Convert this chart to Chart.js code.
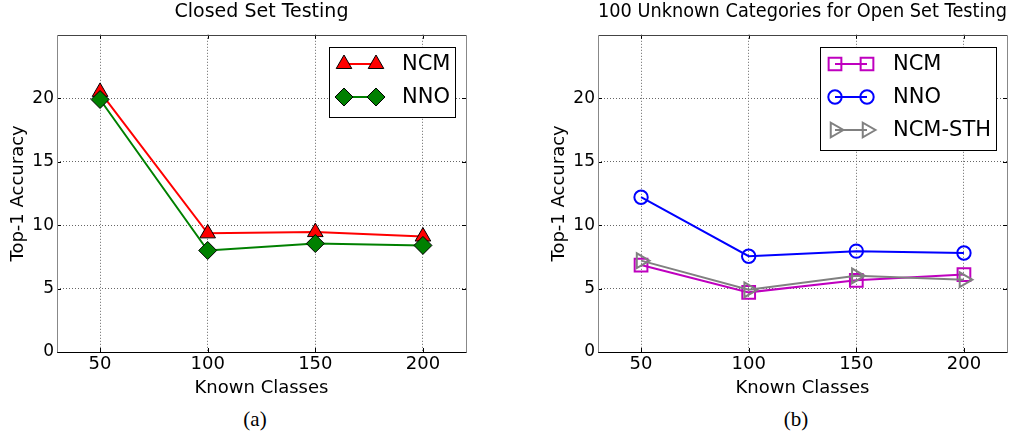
<!DOCTYPE html>
<html>
<head>
<meta charset="utf-8">
<script src="https://cdn.jsdelivr.net/npm/chart.js@4.4.1/dist/chart.umd.min.js"></script>
<style>
  html, body { margin: 0; padding: 0; background: #fff; overflow: hidden; }
  body { width: 1015px; height: 438px; position: relative; }
  canvas { position: absolute; top: 0; }
  #chartA { left: 0; }
  #chartB { left: 540px; }
  .caption { position: absolute; top: 409px; font-family: "Liberation Serif", serif; font-size: 21px; line-height: 21px; color: #000; transform: translateX(-50%); }
</style>
</head>
<body>
<canvas id="chartA" width="523" height="400"></canvas>
<canvas id="chartB" width="525" height="400"></canvas>
<div class="caption" style="left:255px">(a)</div>
<div class="caption" style="left:796px">(b)</div>
<script>
// data
const knownClasses = [50, 100, 150, 200];
const accTicks = [0, 5, 10, 15, 20];

const closedNCM = [20.5, 9.35, 9.45, 9.1];
const closedNNO = [19.9, 8.0, 8.55, 8.4];

const openNCM = [6.85, 4.7, 5.65, 6.1];
const openNNO = [12.2, 7.55, 7.95, 7.8];
const openNCMSTH = [7.2, 4.9, 6.0, 5.7];

Chart.defaults.font.family = 'DejaVu Sans';
Chart.defaults.color = '#000';

function points(vals) {
    return knownClasses.map((x, i) => ({ x: x, y: vals[i] }));
}

// matplotlib-like frame with inward ticks
const framePlugin = {
    id: 'frame',
    afterDraw(chart) {
        const { ctx, chartArea: a, scales: { x, y } } = chart;
        ctx.save();
        ctx.lineWidth = 1;
        ctx.strokeStyle = '#000';
        ctx.beginPath();
        knownClasses.forEach(v => {
            const px = Math.round(x.getPixelForValue(v)) + 0.5;
            ctx.moveTo(px, a.bottom); ctx.lineTo(px, a.bottom - 4);
            ctx.moveTo(px, a.top); ctx.lineTo(px, a.top + 4);
        });
        accTicks.forEach(v => {
            const py = Math.round(y.getPixelForValue(v)) + 0.5;
            ctx.moveTo(a.left, py); ctx.lineTo(a.left + 4, py);
            ctx.moveTo(a.right, py); ctx.lineTo(a.right - 4, py);
        });
        ctx.stroke();
        const l = Math.round(a.left) + 0.5, r = Math.round(a.right) + 0.5;
        const t = Math.round(a.top) + 0.5, b = Math.round(a.bottom) + 0.5;
        const side = (c, x1, y1, x2, y2) => {
            ctx.strokeStyle = c;
            ctx.beginPath(); ctx.moveTo(x1, y1); ctx.lineTo(x2, y2); ctx.stroke();
        };
        side('#444', l, t, r, t);
        side('#888', r, t, r, b);
        side('#888', l, t, l, b);
        side('#000', l, b, r, b);
        ctx.restore();
    }
};

// boxed legend with two markers per entry
const boxLegend = {
    id: 'boxLegend',
    afterDatasetsDraw(chart) {
        const { ctx, chartArea: a } = chart;
        const sets = chart.data.datasets;
        ctx.save();
        ctx.font = '21px "DejaVu Sans"';
        const textW = Math.max(...sets.map(d => ctx.measureText(d.label).width));
        const w = Math.round(73 + textW + 5), h = 37 + 33 * (sets.length - 1);
        const left = Math.round(a.right - 11 - w), top = Math.round(a.top + 12);
        ctx.fillStyle = '#fff';
        ctx.fillRect(left, top, w, h);
        ctx.strokeStyle = '#000';
        ctx.lineWidth = 1;
        ctx.strokeRect(left + 0.5, top + 0.5, w, h);
        sets.forEach((d, i) => {
            const cy = top + 17 + 33 * i;
            const x1 = left + 15, x2 = left + 47;
            ctx.strokeStyle = d.borderColor;
            ctx.lineWidth = d.borderWidth;
            ctx.beginPath(); ctx.moveTo(x1, cy); ctx.lineTo(x2, cy); ctx.stroke();
            [x1, x2].forEach(px => {
                ctx.fillStyle = d.pointBackgroundColor;
                ctx.strokeStyle = d.pointBorderColor;
                ctx.lineWidth = d.pointBorderWidth;
                Chart.helpers.drawPoint(ctx, {
                    pointStyle: d.pointStyle,
                    radius: d.pointRadius,
                    rotation: d.pointRotation || 0,
                    borderWidth: d.pointBorderWidth
                }, px, cy);
            });
            ctx.fillStyle = '#000';
            ctx.textBaseline = 'middle';
            ctx.textAlign = 'left';
            ctx.fillText(d.label, left + 73, cy + 1);
        });
        ctx.restore();
    }
};

function makeChart(id, title, datasets, yAxisWidth, yTitlePad, rightPad) {
    return new Chart(document.getElementById(id), {
        type: 'line',
        data: { datasets: datasets },
        options: {
            responsive: false,
            animation: false,
            devicePixelRatio: 1,
            events: [],
            layout: { padding: { left: 0, right: rightPad, top: 0, bottom: 0 } },
            plugins: {
                legend: { display: false },
                tooltip: { enabled: false },
                title: {
                    display: true,
                    text: title,
                    fullSize: false,
                    color: '#000',
                    font: { size: 19, weight: 'normal' },
                    padding: { top: 1, bottom: 11 }
                }
            },
            scales: {
                x: {
                    type: 'linear',
                    min: 30,
                    max: 220,
                    afterBuildTicks: s => { s.ticks = knownClasses.map(v => ({ value: v })); },
                    afterFit: s => { s.height = 48; },
                    grid: { color: '#666', drawTicks: false, lineWidth: 1 },
                    border: { display: false, dash: [1, 2] },
                    ticks: { font: { size: 18 }, padding: 2, color: '#000' },
                    title: { display: true, text: 'Known Classes', font: { size: 18 }, padding: { top: 0, bottom: 1 }, color: '#000' }
                },
                y: {
                    min: 0,
                    max: 25,
                    afterBuildTicks: s => { s.ticks = accTicks.map(v => ({ value: v })); },
                    afterFit: s => { s.width = yAxisWidth; },
                    grid: { color: '#666', drawTicks: false, lineWidth: 1 },
                    border: { display: false, dash: [1, 2] },
                    ticks: { font: { size: 17 }, padding: 3, color: '#000' },
                    title: { display: true, text: 'Top-1 Accuracy', font: { size: 18 }, padding: { top: yTitlePad, bottom: 0 }, color: '#000' }
                }
            }
        },
        plugins: [boxLegend, framePlugin]
    });
}

makeChart('chartA', 'Closed Set Testing', [
    {
        label: 'NCM', data: points(closedNCM), order: 2,
        borderColor: '#ff0000', borderWidth: 2,
        pointStyle: 'triangle', pointRadius: 9,
        pointBackgroundColor: '#ff0000', pointBorderColor: '#000', pointBorderWidth: 1
    },
    {
        label: 'NNO', data: points(closedNNO), order: 1,
        borderColor: '#008000', borderWidth: 2,
        pointStyle: 'rectRot', pointRadius: 9,
        pointBackgroundColor: '#008000', pointBorderColor: '#000', pointBorderWidth: 1
    }
], 57, 8, 57);

makeChart('chartB', '100 Unknown Categories for Open Set Testing', [
    {
        label: 'NCM', data: points(openNCM), order: 3,
        borderColor: '#bf00bf', borderWidth: 2,
        pointStyle: 'rect', pointRadius: 9,
        pointBackgroundColor: 'rgba(0,0,0,0)', pointBorderColor: '#bf00bf', pointBorderWidth: 2
    },
    {
        label: 'NNO', data: points(openNNO), order: 2,
        borderColor: '#0000ff', borderWidth: 2,
        pointStyle: 'circle', pointRadius: 6.7,
        pointBackgroundColor: 'rgba(0,0,0,0)', pointBorderColor: '#0000ff', pointBorderWidth: 2
    },
    {
        label: 'NCM-STH', data: points(openNCMSTH), order: 1,
        borderColor: '#808080', borderWidth: 2,
        pointStyle: 'triangle', pointRotation: 90, pointRadius: 8.5,
        pointBackgroundColor: 'rgba(0,0,0,0)', pointBorderColor: '#808080', pointBorderWidth: 2
    }
], 58, 9, 58);
</script>
</body>
</html>
